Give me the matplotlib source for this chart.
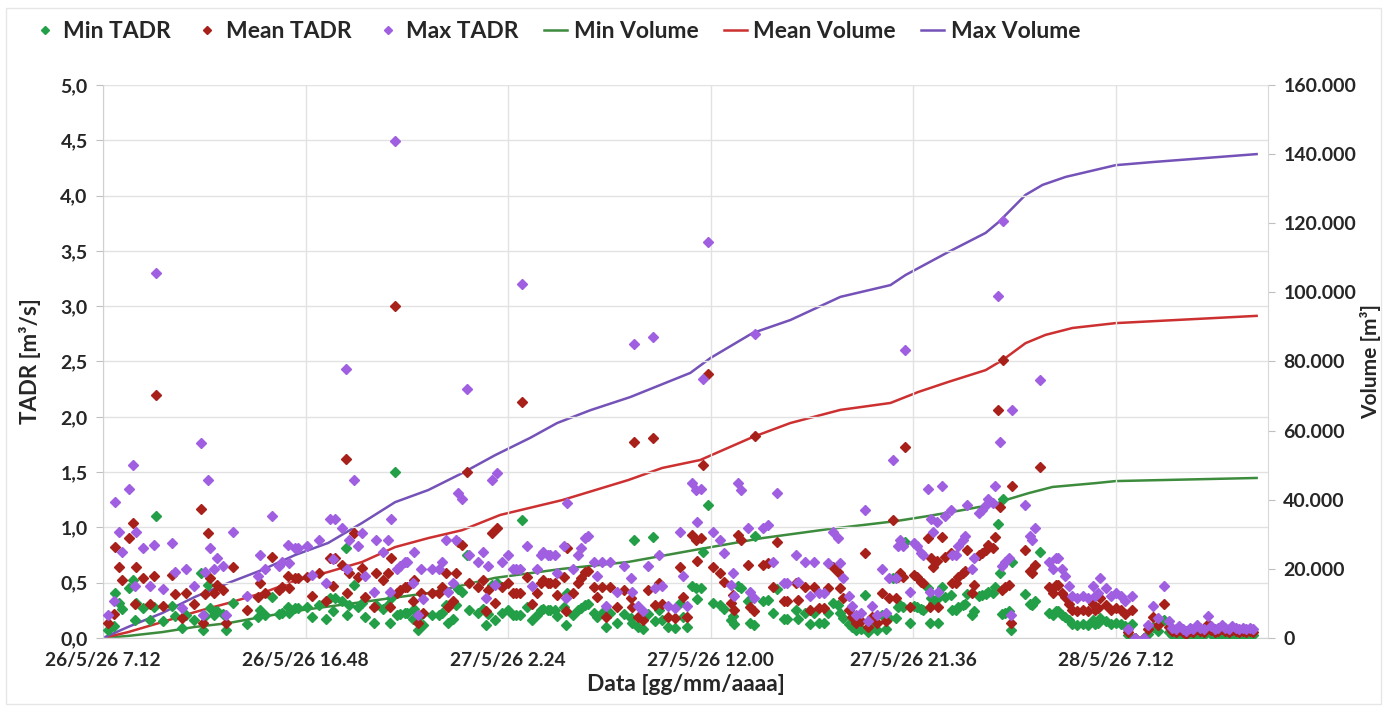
import datetime as dt
import matplotlib
matplotlib.use("Agg")
import matplotlib.pyplot as plt
import matplotlib.dates as mdates
from matplotlib.lines import Line2D
from matplotlib.ticker import FuncFormatter, MultipleLocator
from matplotlib.patches import Rectangle

plt.rcParams['font.family'] = ['Lato', 'DejaVu Sans']
plt.rcParams['font.weight'] = 'bold'

# ---------------- data ----------------
start_time = dt.datetime(2026, 5, 26, 7, 12)
end_time = dt.datetime(2026, 5, 28, 14, 24)

# minutes after start for each TADR observation
t_min = [
    15, 30, 35, 45, 55, 75, 85, 90, 95, 115, 135, 145, 150, 170, 195, 205, 225, 235, 260, 280,
    285, 290, 300, 305, 315, 325, 340, 350, 370, 410, 440, 445, 460, 480, 500, 510, 525, 530, 545,
    555, 580, 595, 615, 635, 645, 655, 660, 680, 690,
    695, 700, 715, 725, 735, 745, 770, 775, 795, 810,
    815, 820, 830, 835, 845, 860, 865, 880, 885, 895,
    905, 910, 935, 955, 965, 975, 980, 995, 1005, 1010,
    1020, 1035, 1040, 1065, 1080, 1090, 1095, 1105, 1115, 1120,
    1135, 1150, 1165, 1175, 1185, 1190, 1205, 1220, 1235, 1245,
    1250, 1265, 1270, 1285, 1290, 1310, 1315, 1320, 1335, 1350,
    1360, 1370, 1380, 1395, 1405, 1420, 1430, 1440, 1460, 1480,
    1500, 1505, 1510, 1520, 1535, 1550, 1565, 1570, 1580, 1590,
    1605, 1625, 1640, 1650, 1660, 1675, 1685, 1690,
    1700, 1705, 1720, 1735, 1755, 1765, 1785, 1790, 1795, 1805,
    1815, 1835, 1840, 1850, 1855, 1875, 1890, 1905, 1915, 1935,
    1945, 1970, 1975, 1995, 2010, 2020, 2035, 2050, 2060, 2075,
    2090, 2095, 2105, 2120, 2130, 2140, 2155, 2165, 2175, 2185,
    2200, 2215, 2225, 2235, 2245, 2255, 2260,
    2265, 2275, 2280, 2295, 2305, 2315, 2325, 2330, 2345, 2350,
    2355, 2360, 2370, 2375, 2385, 2395, 2410, 2415, 2425, 2430,
    2445, 2450, 2455, 2470, 2475, 2490, 2500, 2510, 2515, 2530,
    2535, 2545, 2550, 2555, 2560, 2565, 2575, 2580, 2585, 2620,
    2635, 2640, 2650, 2665, 2690, 2700, 2710, 2715, 2725, 2735,
    2745, 2755, 2770, 2785, 2800, 2815, 2820,
    2830, 2835, 2850, 2865, 2880, 2895, 2905, 2915, 2925, 2935, 2960, 2970, 2985, 3000, 3015, 3030,
    3040, 3050, 3060, 3070, 3080, 3090, 3100, 3110, 3120, 3130, 3140, 3150,
    3160, 3170, 3180, 3190, 3200, 3210, 3220, 3230, 3240, 3250, 3260, 3270,
]

mean_tadr = [
    0.14, 0.22, 0.82, 0.64, 0.52, 0.90, 1.04, 0.31, 0.64, 0.54, 0.31, 0.56, 2.20, 0.29, 0.57, 0.40, 0.18, 0.41, 0.31, 1.17,
    0.14, 0.40, 0.95, 0.54, 0.41, 0.48, 0.43, 0.14, 0.64, 0.25, 0.37, 0.50, 0.41, 0.73, 0.43, 0.46, 0.56, 0.45, 0.54,
    0.54, 0.55, 0.38, 0.59, 0.33, 0.72, 0.47, 0.72, 0.66, 1.62,
    0.41, 0.59, 0.95, 0.55, 0.63, 0.37, 0.28, 0.59, 0.52, 0.59,
    0.28, 0.72, 3.00, 0.41, 0.43, 0.46, 0.46, 0.33, 0.52, 0.14,
    0.41, 0.23, 0.41, 0.41, 0.46, 0.59, 0.28, 0.33, 0.59, 0.87,
    0.84, 1.50, 0.50, 0.46, 0.52, 0.24, 0.43, 0.95, 0.32, 0.99,
    0.46, 0.50, 0.41, 0.41, 0.41, 2.13, 0.55, 0.31, 0.41, 0.50,
    0.52, 0.50, 0.50, 0.50, 0.39, 0.55, 0.24, 0.81, 0.41, 0.50,
    0.54, 0.60, 0.61, 0.46, 0.37, 0.46, 0.19, 0.46, 0.28, 0.43,
    0.36, 0.28, 1.77, 0.19, 0.16, 0.43, 1.81, 0.30, 0.50, 0.31,
    0.19, 0.18, 0.64, 0.37, 0.19, 0.93, 0.89, 0.70,
    0.90, 1.56, 2.39, 0.64, 0.59, 0.51, 0.32, 0.39, 0.25, 0.93,
    0.89, 0.66, 0.28, 0.24, 1.83, 0.66, 0.68, 0.46, 0.87, 0.33,
    0.33, 0.50, 0.34, 0.46, 0.25, 0.46, 0.27, 0.27, 0.45, 0.64,
    0.60, 0.45, 0.36, 0.25, 0.19, 0.14, 0.15, 0.77, 0.10, 0.19,
    0.14, 0.41, 0.15, 0.36, 1.07, 0.36, 0.55,
    0.59, 0.55, 1.73, 0.28, 0.57, 0.55, 0.51, 0.50, 0.90, 0.28,
    0.72, 0.64, 0.70, 0.28, 0.91, 0.73, 0.77, 0.50, 0.50, 0.55,
    0.59, 0.61, 0.80, 0.41, 0.48, 0.75, 0.77, 0.80, 0.84, 0.81,
    0.91, 2.06, 1.18, 0.43, 2.51, 0.46, 0.48, 0.14, 1.37, 0.80,
    0.61, 0.59, 0.66, 1.55, 0.46, 0.41, 0.48, 0.48, 0.41, 0.37,
    0.31, 0.25, 0.24, 0.25, 0.24, 0.31, 0.25,
    0.27, 0.36, 0.30, 0.25, 0.27, 0.25, 0.22, 0.05, 0.25, 0.00, 0.00, 0.08, 0.19, 0.12, 0.31, 0.10,
    0.06, 0.05, 0.07, 0.05, 0.04, 0.06, 0.05, 0.08, 0.06, 0.05, 0.13, 0.07,
    0.05, 0.06, 0.08, 0.06, 0.05, 0.07, 0.06, 0.05, 0.06, 0.05, 0.06, 0.05,
]

min_tadr = [
    0.07, 0.11, 0.41, 0.32, 0.26, 0.45, 0.52, 0.16, 0.32, 0.27, 0.16, 0.28, 1.10, 0.15, 0.29, 0.20, 0.09, 0.21, 0.16, 0.59,
    0.07, 0.20, 0.48, 0.27, 0.21, 0.24, 0.22, 0.07, 0.32, 0.13, 0.19, 0.25, 0.21, 0.37, 0.22, 0.23, 0.28, 0.23, 0.27,
    0.27, 0.28, 0.19, 0.30, 0.17, 0.36, 0.24, 0.36, 0.33, 0.81,
    0.21, 0.30, 0.48, 0.28, 0.32, 0.19, 0.14, 0.30, 0.26, 0.30,
    0.14, 0.36, 1.50, 0.21, 0.22, 0.23, 0.23, 0.17, 0.26, 0.07,
    0.21, 0.12, 0.21, 0.21, 0.23, 0.30, 0.14, 0.17, 0.30, 0.44,
    0.42, 0.75, 0.25, 0.23, 0.26, 0.12, 0.22, 0.48, 0.16, 0.50,
    0.23, 0.25, 0.21, 0.21, 0.21, 1.07, 0.28, 0.16, 0.21, 0.25,
    0.26, 0.25, 0.25, 0.25, 0.20, 0.28, 0.12, 0.41, 0.21, 0.25,
    0.27, 0.30, 0.31, 0.23, 0.19, 0.23, 0.10, 0.23, 0.14, 0.22,
    0.18, 0.14, 0.89, 0.10, 0.08, 0.22, 0.91, 0.15, 0.25, 0.16,
    0.10, 0.09, 0.32, 0.19, 0.10, 0.47, 0.45, 0.35,
    0.45, 0.78, 1.20, 0.32, 0.30, 0.26, 0.16, 0.20, 0.13, 0.47,
    0.45, 0.33, 0.14, 0.12, 0.92, 0.33, 0.34, 0.23, 0.44, 0.17,
    0.17, 0.25, 0.17, 0.23, 0.13, 0.23, 0.14, 0.14, 0.23, 0.32,
    0.30, 0.23, 0.18, 0.13, 0.10, 0.07, 0.08, 0.39, 0.05, 0.10,
    0.07, 0.21, 0.08, 0.18, 0.54, 0.18, 0.28,
    0.30, 0.28, 0.87, 0.14, 0.29, 0.28, 0.26, 0.25, 0.45, 0.14,
    0.36, 0.32, 0.35, 0.14, 0.46, 0.37, 0.39, 0.25, 0.25, 0.28,
    0.30, 0.31, 0.40, 0.21, 0.24, 0.38, 0.39, 0.40, 0.42, 0.41,
    0.46, 1.03, 0.59, 0.22, 1.26, 0.23, 0.24, 0.07, 0.69, 0.40,
    0.31, 0.30, 0.33, 0.78, 0.23, 0.21, 0.24, 0.24, 0.21, 0.19,
    0.16, 0.13, 0.12, 0.13, 0.12, 0.16, 0.13,
    0.14, 0.18, 0.15, 0.13, 0.14, 0.13, 0.11, 0.03, 0.13, 0.00, 0.00, 0.04, 0.10, 0.06, 0.16, 0.05,
    0.03, 0.03, 0.04, 0.03, 0.02, 0.03, 0.03, 0.04, 0.03, 0.03, 0.07, 0.04,
    0.03, 0.03, 0.04, 0.03, 0.03, 0.04, 0.03, 0.03, 0.03, 0.03, 0.03, 0.03,
]

max_tadr = [
    0.21, 0.33, 1.23, 0.96, 0.78, 1.35, 1.56, 0.47, 0.96, 0.81, 0.47, 0.84, 3.30, 0.44, 0.86, 0.60, 0.27, 0.62, 0.47, 1.76,
    0.21, 0.60, 1.43, 0.81, 0.62, 0.72, 0.65, 0.21, 0.96, 0.38, 0.56, 0.75, 0.62, 1.10, 0.65, 0.69, 0.84, 0.68, 0.81,
    0.81, 0.83, 0.57, 0.89, 0.50, 1.08, 0.71, 1.08, 0.99, 2.43,
    0.62, 0.89, 1.43, 0.83, 0.95, 0.56, 0.42, 0.89, 0.78, 0.89,
    0.42, 1.08, 4.49, 0.62, 0.65, 0.69, 0.69, 0.50, 0.78, 0.21,
    0.62, 0.35, 0.62, 0.62, 0.69, 0.89, 0.42, 0.50, 0.89, 1.31,
    1.26, 2.25, 0.75, 0.69, 0.78, 0.36, 0.65, 1.43, 0.48, 1.49,
    0.69, 0.75, 0.62, 0.62, 0.62, 3.20, 0.83, 0.47, 0.62, 0.75,
    0.78, 0.75, 0.75, 0.75, 0.59, 0.83, 0.36, 1.22, 0.62, 0.75,
    0.81, 0.90, 0.92, 0.69, 0.56, 0.69, 0.29, 0.69, 0.42, 0.65,
    0.54, 0.42, 2.66, 0.29, 0.24, 0.65, 2.72, 0.45, 0.75, 0.47,
    0.29, 0.27, 0.96, 0.56, 0.29, 1.40, 1.34, 1.05,
    1.35, 2.34, 3.58, 0.96, 0.89, 0.77, 0.48, 0.59, 0.38, 1.40,
    1.34, 0.99, 0.42, 0.36, 2.75, 0.99, 1.02, 0.69, 1.31, 0.50,
    0.50, 0.75, 0.51, 0.69, 0.38, 0.69, 0.41, 0.41, 0.68, 0.96,
    0.90, 0.68, 0.54, 0.38, 0.29, 0.21, 0.23, 1.16, 0.15, 0.29,
    0.21, 0.62, 0.23, 0.54, 1.61, 0.54, 0.83,
    0.89, 0.83, 2.60, 0.42, 0.86, 0.83, 0.77, 0.75, 1.35, 0.42,
    1.08, 0.96, 1.05, 0.42, 1.37, 1.10, 1.16, 0.75, 0.75, 0.83,
    0.89, 0.92, 1.20, 0.62, 0.72, 1.13, 1.16, 1.20, 1.26, 1.22,
    1.37, 3.09, 1.77, 0.65, 3.77, 0.69, 0.72, 0.21, 2.06, 1.20,
    0.92, 0.89, 0.99, 2.33, 0.69, 0.62, 0.72, 0.72, 0.62, 0.56,
    0.47, 0.38, 0.36, 0.38, 0.36, 0.47, 0.38,
    0.41, 0.54, 0.45, 0.38, 0.41, 0.38, 0.33, 0.08, 0.38, 0.00, 0.00, 0.12, 0.29, 0.18, 0.47, 0.15,
    0.09, 0.08, 0.11, 0.08, 0.06, 0.09, 0.08, 0.12, 0.09, 0.08, 0.20, 0.11,
    0.08, 0.09, 0.12, 0.09, 0.08, 0.11, 0.09, 0.08, 0.09, 0.08, 0.09, 0.08,
]

# cumulative volumes (hours after start, m3)
max_vol_h = [0, 1.19, 2.80, 4.36, 5.93, 7.54, 9.10, 10.67, 12.28, 13.84, 15.41, 17.02, 18.58, 20.24,
             21.52, 23.09, 24.98, 27.83, 28.78, 30.77, 32.57, 34.94, 37.31, 38.02, 40.06, 41.82,
             42.43, 43.71, 44.52, 45.61, 47.98, 49.73, 54.66]
max_vol = [0, 3200, 7200, 11900, 15900, 19700, 24000, 27500, 33300, 39300, 42800, 47700, 52900, 57900,
           62200, 65900, 69700, 76700, 81000, 88200, 92000, 98700, 102100, 105000, 111700, 117200,
           120300, 128200, 131100, 133400, 136800, 137700, 140000]

mean_vol_h = [0, 1.19, 2.80, 4.36, 5.93, 7.54, 9.10, 10.67, 12.28, 13.84, 15.41, 17.02, 18.82, 21.76,
              24.89, 26.50, 28.30, 30.77, 32.57, 34.94, 37.31, 38.64, 40.06, 41.82, 42.62, 43.71,
              44.66, 45.94, 47.98, 54.66]
mean_vol = [0, 1700, 4600, 7500, 10100, 13000, 16500, 19100, 22000, 26300, 28900, 31200, 35600, 39900,
            45700, 49200, 51500, 58100, 62200, 66000, 68000, 71200, 74100, 77500, 80400, 85300,
            87700, 89700, 91100, 93200]

min_vol_h = [0, 1.19, 2.80, 4.36, 5.93, 7.54, 9.10, 12.28, 15.41, 18.58, 21.76, 24.89, 28.06, 31.24,
             34.37, 37.55, 39.11, 40.72, 42.29, 42.76, 43.85, 44.99, 47.02, 47.98, 54.66]
min_vol = [0, 600, 1700, 3200, 4300, 6100, 7800, 10400, 13000, 17400, 20000, 22000, 25500, 28900,
           31500, 33800, 35300, 37000, 38800, 39900, 41900, 43700, 44800, 45400, 46300]

legend_labels = ["Min TADR", "Mean TADR", "Max TADR", "Min Volume", "Mean Volume", "Max Volume"]

# ---------------- styling ----------------
C_MIN_PT, C_MEAN_PT, C_MAX_PT = '#23a047', '#a8201a', '#a05ee0'
C_MIN_LN, C_MEAN_LN, C_MAX_LN = '#3d8b3d', '#cc3030', '#7452b8'
TXT = '#262626'
GRID = '#e2e2e2'

tadr_times = [start_time + dt.timedelta(minutes=m) for m in t_min]
to_time = lambda hs: [start_time + dt.timedelta(hours=h) for h in hs]

fig = plt.figure(figsize=(13.84, 7.07), dpi=100)
fig.patches.append(Rectangle((0.004, 0.004), 0.994, 0.984, transform=fig.transFigure,
                             fill=False, edgecolor='#e6e6e6', lw=1.0))
ax = fig.add_axes([0.0744, 0.0976, 0.8418, 0.7822])
ax2 = ax.twinx()

ms = 4.8
ax.plot(tadr_times, min_tadr, ls='none', marker='D', ms=ms, color=C_MIN_PT, zorder=3)
ax.plot(tadr_times, mean_tadr, ls='none', marker='D', ms=ms, color=C_MEAN_PT, zorder=3)
ax.plot(tadr_times, max_tadr, ls='none', marker='D', ms=ms, color=C_MAX_PT, zorder=3)

ax2.plot(to_time(min_vol_h), min_vol, color=C_MIN_LN, lw=1.8, zorder=4)
ax2.plot(to_time(mean_vol_h), mean_vol, color=C_MEAN_LN, lw=1.8, zorder=4)
ax2.plot(to_time(max_vol_h), max_vol, color=C_MAX_LN, lw=1.8, zorder=4)

ax.set_zorder(ax2.get_zorder() + 1)
ax.patch.set_visible(False)

ax.set_xlim(start_time, end_time)
ax.set_ylim(0, 5)
ax2.set_ylim(0, 160000)

ticks = [start_time + dt.timedelta(hours=9.6 * k) for k in range(6)]
ax.set_xticks(ticks)
def fmt_date(x, pos):
    d = mdates.num2date(x)
    return f"{d.day}/{d.month}/{d.year % 100} {d.hour}.{d.minute:02d}"
ax.xaxis.set_major_formatter(FuncFormatter(fmt_date))
ax.yaxis.set_major_locator(MultipleLocator(0.5))
ax.yaxis.set_major_formatter(FuncFormatter(lambda v, p: f"{v:.1f}".replace('.', ',')))
ax2.yaxis.set_major_locator(MultipleLocator(20000))
ax2.yaxis.set_major_formatter(FuncFormatter(lambda v, p: f"{int(v):,}".replace(',', '.')))

ax.grid(True, color=GRID, lw=1.0)
ax.set_axisbelow(True)
for a in (ax, ax2):
    a.spines['top'].set_visible(False)
    a.spines['left'].set_color('#d0d0d0')
    a.spines['bottom'].set_color('#d0d0d0')
    a.spines['right'].set_color('#d9d9d9')
ax.spines['right'].set_visible(False)
ax2.spines['left'].set_visible(False)
ax2.spines['bottom'].set_visible(False)

ax.tick_params(axis='y', length=5, color='#bfbfbf', labelsize=14, labelcolor=TXT, pad=6)
ax.tick_params(axis='x', length=0, labelsize=13.8, labelcolor=TXT, pad=10)
ax2.tick_params(axis='y', length=5, color='#bfbfbf', labelsize=14, labelcolor=TXT, pad=6)
for lab in ax.get_xticklabels() + ax.get_yticklabels() + ax2.get_yticklabels():
    lab.set_fontweight('bold')

ax.set_xlabel("Data [gg/mm/aaaa]", fontsize=16.5, fontweight='bold', color=TXT, labelpad=4)
ax.set_ylabel("TADR [m³/s]", fontsize=16, fontweight='bold', color=TXT, labelpad=14)
ax2.set_ylabel("Volume [m³]", fontsize=15, fontweight='bold', color=TXT, labelpad=3)

handles = [
    Line2D([], [], ls='none', marker='D', ms=4.5, color=C_MIN_PT),
    Line2D([], [], ls='none', marker='D', ms=4.5, color=C_MEAN_PT),
    Line2D([], [], ls='none', marker='D', ms=4.5, color=C_MAX_PT),
    Line2D([], [], color=C_MIN_LN, lw=1.8),
    Line2D([], [], color=C_MEAN_LN, lw=1.8),
    Line2D([], [], color=C_MAX_LN, lw=1.8),
]
fig.legend(handles, legend_labels, loc='center left', bbox_to_anchor=(0.009, 0.955), ncol=6,
           frameon=False, prop={'size': 16.5, 'weight': 'bold'}, handlelength=1.0,
           handletextpad=0.3, columnspacing=1.1, labelcolor=TXT)

fig.savefig("out.png", dpi=100)
